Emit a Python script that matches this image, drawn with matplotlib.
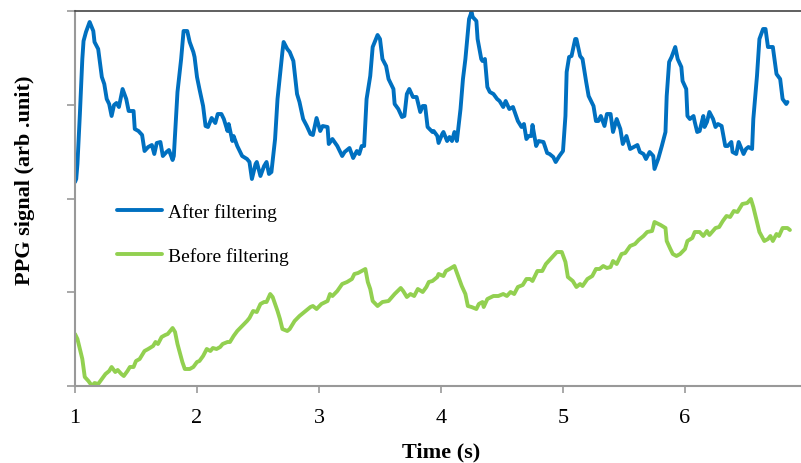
import numpy as np
import matplotlib
matplotlib.use("Agg")
import matplotlib.pyplot as plt

# ---------------- data ----------------
# time in seconds, signal in arbitrary units (0 .. 375)
t_after = [1.00, 1.01, 1.02, 1.04, 1.06, 1.07, 1.09, 1.12, 1.15, 1.16, 1.19, 1.22, 1.24, 1.26,
           1.28, 1.30, 1.32, 1.34, 1.36, 1.39, 1.42, 1.44, 1.48, 1.49, 1.52, 1.55, 1.57, 1.60,
           1.63, 1.65, 1.67, 1.70, 1.72, 1.75, 1.77, 1.80, 1.81, 1.84, 1.87, 1.89, 1.92, 1.94,
           1.97, 1.98, 2.00, 2.02, 2.05, 2.07, 2.09, 2.12, 2.15, 2.17, 2.20, 2.22, 2.25, 2.26,
           2.29, 2.30, 2.33, 2.37, 2.41, 2.43, 2.45, 2.48, 2.49, 2.52, 2.55, 2.57, 2.59, 2.61,
           2.64, 2.66, 2.70, 2.71, 2.74, 2.76, 2.79, 2.82, 2.84, 2.87, 2.90, 2.93, 2.95, 2.98,
           3.01, 3.03, 3.07, 3.08, 3.11, 3.15, 3.19, 3.21, 3.25, 3.28, 3.31, 3.33, 3.35, 3.37,
           3.39, 3.42, 3.44, 3.48, 3.50, 3.52, 3.55, 3.57, 3.61, 3.62, 3.65, 3.68, 3.70, 3.72,
           3.74, 3.77, 3.80, 3.83, 3.85, 3.87, 3.89, 3.93, 3.94, 3.97, 3.98, 4.01, 4.02, 4.05,
           4.07, 4.09, 4.11, 4.13, 4.16, 4.18, 4.20, 4.23, 4.25, 4.26, 4.29, 4.30, 4.33, 4.34,
           4.36, 4.38, 4.40, 4.43, 4.46, 4.48, 4.51, 4.53, 4.56, 4.59, 4.61, 4.63, 4.66, 4.68,
           4.70, 4.72, 4.74, 4.75, 4.78, 4.80, 4.84, 4.87, 4.89, 4.92, 4.94, 4.97, 5.00, 5.02,
           5.03, 5.05, 5.07, 5.10, 5.11, 5.14, 5.16, 5.19, 5.21, 5.25, 5.27, 5.29, 5.31, 5.34,
           5.36, 5.39, 5.41, 5.44, 5.47, 5.49, 5.52, 5.55, 5.58, 5.61, 5.63, 5.66, 5.68, 5.71,
           5.74, 5.75, 5.78, 5.81, 5.84, 5.85, 5.87, 5.89, 5.92, 5.94, 5.97, 5.98, 6.01, 6.02,
           6.04, 6.07, 6.08, 6.10, 6.12, 6.15, 6.16, 6.18, 6.20, 6.23, 6.25, 6.27, 6.30, 6.33,
           6.35, 6.38, 6.39, 6.42, 6.44, 6.48, 6.50, 6.52, 6.55, 6.56, 6.59, 6.61, 6.64, 6.66,
           6.68, 6.72, 6.75, 6.78, 6.80, 6.83, 6.84]
ppg_after = [204, 207, 222, 272, 327, 345, 354, 364, 355, 344, 337, 309, 302, 287,
             282, 270, 281, 283, 279, 297, 287, 275, 275, 257, 255, 251, 235, 239,
             241, 232, 243, 244, 230, 234, 236, 226, 230, 294, 327, 355, 355, 344,
             334, 329, 309, 297, 280, 260, 259, 268, 263, 272, 272, 267, 255, 262,
             245, 250, 240, 230, 227, 224, 207, 222, 224, 210, 220, 224, 212, 214,
             247, 287, 334, 344, 337, 334, 325, 292, 284, 267, 260, 252, 251, 268,
             255, 260, 259, 242, 247, 240, 230, 234, 238, 228, 235, 232, 240, 240,
             287, 310, 339, 351, 347, 327, 320, 307, 297, 282, 277, 269, 270, 292,
             297, 289, 289, 274, 280, 280, 259, 254, 255, 250, 243, 252, 254, 245,
             249, 245, 254, 245, 277, 307, 327, 367, 374, 369, 365, 347, 327, 325,
             327, 299, 294, 292, 287, 285, 279, 285, 277, 279, 272, 265, 259, 262,
             247, 250, 250, 261, 240, 245, 244, 233, 232, 229, 224, 230, 235, 270,
             314, 329, 330, 347, 347, 330, 327, 304, 290, 280, 265, 265, 270, 260,
             272, 272, 254, 267, 257, 242, 250, 237, 239, 241, 234, 232, 227, 234,
             230, 217, 227, 240, 254, 290, 324, 329, 339, 327, 319, 305, 297, 270,
             267, 270, 264, 254, 255, 270, 259, 264, 274, 267, 259, 262, 260, 240,
             240, 244, 234, 232, 244, 232, 237, 239, 237, 267, 310, 347, 357, 357,
             339, 339, 312, 307, 287, 282, 284]

t_before = [1.00, 1.02, 1.06, 1.08, 1.11, 1.14, 1.16, 1.19, 1.22, 1.25, 1.28, 1.30, 1.33, 1.35,
            1.38, 1.40, 1.43, 1.45, 1.48, 1.50, 1.53, 1.57, 1.60, 1.64, 1.66, 1.68, 1.71, 1.74,
            1.76, 1.80, 1.82, 1.84, 1.88, 1.90, 1.94, 1.97, 2.00, 2.02, 2.05, 2.08, 2.11, 2.13,
            2.16, 2.19, 2.21, 2.25, 2.27, 2.30, 2.33, 2.37, 2.41, 2.43, 2.46, 2.49, 2.52, 2.55,
            2.57, 2.60, 2.62, 2.66, 2.68, 2.70, 2.74, 2.76, 2.80, 2.84, 2.89, 2.93, 2.95, 2.98,
            3.02, 3.07, 3.09, 3.11, 3.15, 3.19, 3.23, 3.27, 3.29, 3.32, 3.35, 3.38, 3.40, 3.42,
            3.44, 3.48, 3.52, 3.57, 3.62, 3.67, 3.69, 3.72, 3.75, 3.78, 3.81, 3.85, 3.88, 3.90,
            3.93, 3.97, 3.98, 4.02, 4.04, 4.07, 4.11, 4.14, 4.17, 4.20, 4.22, 4.25, 4.29, 4.31,
            4.34, 4.35, 4.38, 4.43, 4.47, 4.51, 4.54, 4.57, 4.60, 4.63, 4.67, 4.70, 4.73, 4.75,
            4.79, 4.83, 4.86, 4.89, 4.92, 4.95, 4.99, 5.02, 5.04, 5.08, 5.11, 5.14, 5.16, 5.20,
            5.24, 5.27, 5.30, 5.33, 5.36, 5.39, 5.41, 5.44, 5.48, 5.51, 5.55, 5.59, 5.62, 5.66,
            5.69, 5.73, 5.75, 5.80, 5.84, 5.85, 5.88, 5.90, 5.93, 5.96, 6.00, 6.02, 6.06, 6.08,
            6.12, 6.15, 6.18, 6.20, 6.25, 6.28, 6.31, 6.34, 6.37, 6.40, 6.43, 6.47, 6.51, 6.54,
            6.56, 6.59, 6.61, 6.65, 6.68, 6.70, 6.72, 6.75, 6.77, 6.80, 6.84, 6.86]
ppg_before = [52, 47, 27, 9, 5, 0, 3, 2, 7, 12, 15, 19, 14, 16,
              12, 10, 15, 19, 19, 25, 27, 35, 37, 40, 44, 42, 49, 51,
              52, 58, 54, 42, 24, 17, 17, 19, 24, 25, 30, 37, 35, 38,
              37, 39, 42, 44, 44, 50, 55, 60, 65, 68, 75, 74, 82, 84,
              84, 92, 89, 75, 67, 57, 55, 57, 65, 70, 75, 79, 80, 77,
              82, 85, 92, 90, 95, 102, 104, 107, 112, 113, 115, 117, 104, 97,
              85, 80, 84, 85, 92, 98, 95, 89, 92, 90, 97, 94, 99, 104,
              105, 109, 112, 110, 115, 117, 120, 110, 100, 92, 80, 79, 77, 82,
              84, 79, 87, 90, 90, 92, 90, 94, 92, 99, 101, 107, 107, 105,
              115, 115, 122, 126, 130, 134, 134, 124, 109, 105, 99, 102, 100, 107,
              110, 117, 117, 120, 118, 119, 125, 122, 132, 133, 140, 142, 146, 150,
              154, 155, 164, 161, 158, 145, 137, 132, 130, 132, 137, 145, 148, 154,
              154, 150, 155, 151, 158, 159, 165, 170, 169, 175, 174, 182, 183, 187,
              179, 164, 154, 145, 147, 150, 145, 152, 150, 158, 158, 156]

x_ticks = [1, 2, 3, 4, 5, 6, 7]

BLUE = '#0070C0'
GREEN = '#92D050'

plt.rcParams['font.family'] = ['Liberation Serif', 'DejaVu Serif']

fig = plt.figure(figsize=(8.01, 4.64), dpi=100)
# axes run past the right edge like in the reference (x=7 is cut)
ax = fig.add_axes([75 / 801, 77 / 464, 732 / 801, 375 / 464])

ax.plot(t_after, ppg_after, color=BLUE, lw=2.8, label='After filtering',
        solid_joinstyle='round', solid_capstyle='round')
ax.plot(t_before, ppg_before, color=GREEN, lw=2.8, label='Before filtering',
        solid_joinstyle='round', solid_capstyle='round')

ax.set_xlim(1, 7)
ax.set_ylim(0, 375)
ax.set_xticks(x_ticks)
ax.set_yticks(np.linspace(0, 375, 5))
ax.set_yticklabels([])
ax.tick_params(axis='x', labelsize=16, length=5, width=1.2, color='#999999', pad=11)
ax.tick_params(axis='y', length=6, width=1.2, color='#999999')

for side in ['left', 'bottom']:
    ax.spines[side].set_color('#999999')
    ax.spines[side].set_linewidth(1.5)
ax.spines['top'].set_color('#444444')
ax.spines['top'].set_linewidth(1.2)
ax.spines['right'].set_visible(False)

ax.set_xlabel('Time (s)', fontsize=16, fontweight='bold', labelpad=10)
fig.text(25 / 801, 1 - 180 / 464, 'PPG signal (arb .unit)', rotation=90, fontsize=16,
         fontweight='bold', ha='center', va='center')

leg = ax.legend(loc='upper left', bbox_to_anchor=(117 / 801, 1 - 204 / 464),
                bbox_transform=fig.transFigure, frameon=False, fontsize=14,
                handlelength=2.3, handletextpad=0.3, labelspacing=1.35,
                borderpad=0, borderaxespad=0)

fig.savefig('out.png', dpi=100)
